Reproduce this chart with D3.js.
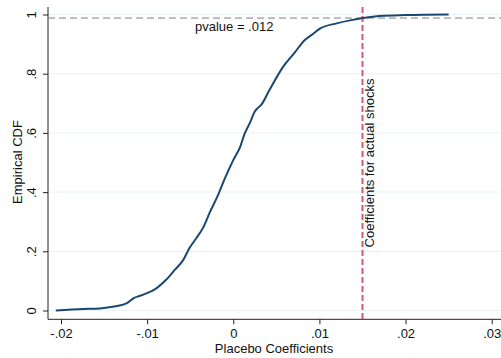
<!DOCTYPE html>
<html lang="en">
<head>
    <meta charset="UTF-8">
    <title>Empirical CDF of Placebo Coefficients</title>
    <script src="https://d3js.org/d3.v7.min.js"></script>
    <style>
        body { margin: 0; background: #fff; }
        svg { display: block; font-family: "Liberation Sans", Arial, Helvetica, sans-serif; }
    </style>
</head>
<body>
<div id="chart"></div>

<script>
// placebo coefficient values and their empirical CDF
const coefs = [-0.0206, -0.0174, -0.0155, -0.0144, -0.0124, -0.0115, -0.0109, -0.0101, -0.0093, -0.0078,
               -0.0068, -0.0058, -0.0051, -0.0043, -0.0035, -0.0027, -0.0018, -0.0010, 0.0000, 0.0008,
               0.0013, 0.0019, 0.0025, 0.0033, 0.0042, 0.0058, 0.0072, 0.0083, 0.0091, 0.0101,
               0.0120, 0.0137, 0.0149, 0.0170, 0.0200, 0.0250];
const cdf = [0.000, 0.005, 0.007, 0.011, 0.024, 0.043, 0.049, 0.058, 0.068, 0.104,
             0.137, 0.171, 0.210, 0.244, 0.280, 0.333, 0.388, 0.445, 0.508, 0.553,
             0.596, 0.632, 0.672, 0.697, 0.745, 0.824, 0.874, 0.914, 0.931, 0.953,
             0.970, 0.981, 0.987, 0.995, 0.998, 1.000];
const xTicks = [-0.02, -0.01, 0, 0.01, 0.02, 0.03];
const yTicks = [0, 0.2, 0.4, 0.6, 0.8, 1];
const actualCoef = 0.015;
const pvalue = 0.012;

const width = 501, height = 358;
const svg = d3.select("#chart").append("svg")
    .attr("width", width)
    .attr("height", height);

const x = d3.scaleLinear().domain([-0.02, 0.03]).range([61, 491.7]);
const y = d3.scaleLinear().domain([0, 1]).range([310.5, 14.5]);
const plotLeft = 48, plotRight = 501, plotBottom = 319.3, plotTop = 7;

// stata style labels: ".2" instead of "0.2"
const fmt = d => d === 0 ? "0" : String(d).replace("0.", ".");

// gridlines
svg.append("g").selectAll("line")
    .data(yTicks)
    .join("line")
    .attr("x1", plotLeft).attr("x2", plotRight)
    .attr("y1", d => y(d)).attr("y2", d => y(d))
    .attr("stroke", "#eaf2f3")
    .attr("stroke-width", 1);

// y axis
const yAxis = svg.append("g")
    .attr("transform", `translate(${plotLeft},0)`)
    .call(d3.axisLeft(y).tickValues(yTicks).tickFormat(fmt).tickSize(5).tickPadding(8));
yAxis.select(".domain").attr("d", `M0,${plotTop}V${plotBottom}`).attr("stroke", "#222");
yAxis.selectAll(".tick line").attr("stroke", "#222");
yAxis.selectAll(".tick text")
    .attr("transform", "rotate(-90)")
    .attr("x", 0).attr("y", -12)
    .attr("dy", 0)
    .attr("text-anchor", "middle")
    .style("font-size", "13px")
    .attr("fill", "#111");

// x axis
const xAxis = svg.append("g")
    .attr("transform", `translate(0,${plotBottom})`)
    .call(d3.axisBottom(x).tickValues(xTicks).tickFormat(fmt).tickSize(5).tickPadding(4));
xAxis.select(".domain").attr("d", `M${plotLeft},0H${plotRight}`).attr("stroke", "#222");
xAxis.selectAll(".tick line").attr("stroke", "#222");
xAxis.selectAll(".tick text")
    .style("font-size", "13px")
    .attr("fill", "#111");

// horizontal reference at 1 - pvalue
svg.append("line")
    .attr("x1", plotLeft).attr("x2", plotRight)
    .attr("y1", y(1 - pvalue)).attr("y2", y(1 - pvalue))
    .attr("stroke", "#7f7f7f")
    .attr("stroke-width", 1)
    .attr("stroke-dasharray", "7,4");

// vertical line at the actual coefficient
svg.append("line")
    .attr("x1", x(actualCoef)).attr("x2", x(actualCoef))
    .attr("y1", plotTop).attr("y2", plotBottom)
    .attr("stroke", "#d6577d")
    .attr("stroke-width", 2)
    .attr("stroke-dasharray", "6,3");

// cdf curve
const line = d3.line()
    .x((d, i) => x(coefs[i]))
    .y(d => y(d))
    .curve(d3.curveMonotoneX);
svg.append("path")
    .datum(cdf)
    .attr("d", line)
    .attr("fill", "none")
    .attr("stroke", "#1a476f")
    .attr("stroke-width", 2);

// annotations
svg.append("text")
    .attr("x", 195).attr("y", 31)
    .style("font-size", "13px")
    .attr("fill", "#111")
    .text("pvalue = " + fmt(pvalue));

svg.append("text")
    .attr("transform", `translate(${x(actualCoef) + 12},163) rotate(-90)`)
    .attr("text-anchor", "middle")
    .style("font-size", "13px")
    .attr("fill", "#111")
    .text("Coefficients for actual shocks");

// axis titles
svg.append("text")
    .attr("transform", "translate(22,162) rotate(-90)")
    .attr("text-anchor", "middle")
    .style("font-size", "13px")
    .attr("fill", "#111")
    .text("Empirical CDF");

svg.append("text")
    .attr("x", 274).attr("y", 352.5)
    .attr("text-anchor", "middle")
    .style("font-size", "13px")
    .attr("fill", "#111")
    .text("Placebo Coefficients");
</script>

</body>
</html>
